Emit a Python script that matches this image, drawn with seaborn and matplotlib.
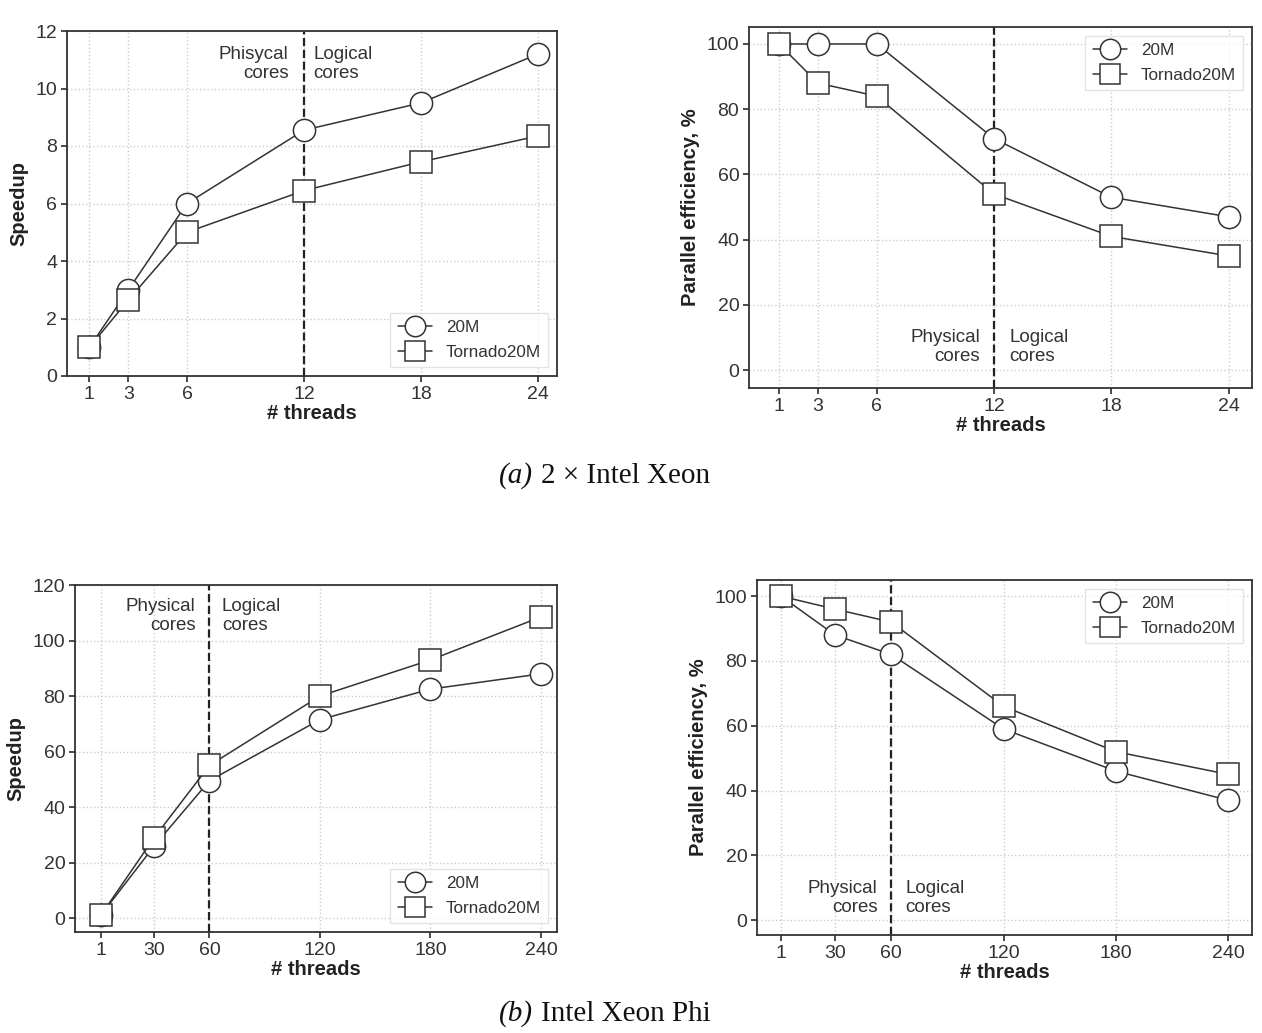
import numpy as np
import pandas as pd
import matplotlib
matplotlib.use("Agg")
import matplotlib.pyplot as plt
import seaborn as sns

# ---- data ----
series_names = ["20M", "Tornado20M"]

xeon_threads = [1, 3, 6, 12, 18, 24]
xeon_speedup_20m = [1.0, 3.0, 6.0, 8.55, 9.5, 11.2]
xeon_speedup_tornado = [1.0, 2.65, 5.0, 6.45, 7.45, 8.35]
xeon_eff_20m = [100, 100, 100, 71, 53, 47]
xeon_eff_tornado = [100, 88, 84, 54, 41, 35]

phi_threads = [1, 30, 60, 120, 180, 240]
phi_speedup_20m = [1.0, 26, 49.5, 71.5, 82.5, 88]
phi_speedup_tornado = [1.0, 29, 55, 80, 93, 108.5]
phi_eff_20m = [100, 88, 82, 59, 46, 37]
phi_eff_tornado = [100, 96, 92, 66, 52, 45]

xeon_split = 12
phi_split = 60

sns.set_theme(style="whitegrid")
plt.rcParams['font.family'] = ['Liberation Sans', 'DejaVu Sans']
plt.rcParams.update({
    "axes.edgecolor": "#333333",
    "axes.linewidth": 1.3,
    "grid.color": "#cccccc",
    "grid.linestyle": ":",
    "grid.linewidth": 1.0,
    "xtick.bottom": True,
    "ytick.left": True,
    "xtick.color": "#333333",
    "ytick.color": "#333333",
    "xtick.major.size": 4,
    "ytick.major.size": 4,
    "text.color": "#333333",
    "axes.labelcolor": "#222222",
})

DARK = "#333333"


def make_frame(x, a, b):
    return pd.DataFrame({
        "threads": list(x) * 2,
        "value": list(a) + list(b),
        "series": [series_names[0]] * len(x) + [series_names[1]] * len(x),
    })


def draw_panel(ax, x, a, b, ylabel, split, left_txt, text_y, legend_loc,
               xlim, ylim, yticks, dx_left=9, dx_right=8):
    df = make_frame(x, a, b)
    sns.lineplot(data=df, x="threads", y="value", hue="series", style="series",
                 markers={"20M": "o", "Tornado20M": "s"}, dashes=False,
                 palette=[DARK, DARK], markersize=16, linewidth=1.1,
                 markerfacecolor="white", markeredgecolor=DARK,
                 markeredgewidth=1.1, legend=False, ax=ax)
    handles = list(ax.lines[:2])
    ax.axvline(split, color="#222222", linestyle="--", linewidth=1.6, zorder=1)
    ax.annotate(left_txt, xy=(split, text_y), xytext=(-dx_left, 0),
                textcoords="offset points", ha="right", va="center",
                fontsize=13.5, multialignment="right", linespacing=1.15,
                color="#333333")
    ax.annotate("Logical\ncores", xy=(split, text_y), xytext=(dx_right, 0),
                textcoords="offset points", ha="left", va="center",
                fontsize=13.5, multialignment="left", linespacing=1.15,
                color="#333333")
    leg = ax.legend(handles, series_names, loc=legend_loc, fontsize=12.3,
                    frameon=True, fancybox=False, handlelength=2.0,
                    handletextpad=0.8, borderpad=0.45, labelspacing=0.55,
                    markerscale=0.92)
    leg.get_frame().set_edgecolor("#dddddd")
    ax.set_xticks(x)
    ax.set_yticks(yticks)
    ax.set_xlim(*xlim)
    ax.set_ylim(*ylim)
    ax.set_xlabel("# threads", fontsize=14.5, fontweight="bold", labelpad=1)
    ax.set_ylabel(ylabel, fontsize=14.5, fontweight="bold", labelpad=5)
    ax.tick_params(labelsize=14, pad=3)
    for s in ax.spines.values():
        s.set_color(DARK)


W, H = 1262, 1033
fig = plt.figure(figsize=(W / 100, H / 100), dpi=100)


def px_axes(l, t, r, b):
    return fig.add_axes([l / W, 1 - b / H, (r - l) / W, (b - t) / H])


ax1 = px_axes(67, 31, 557, 376)
draw_panel(ax1, xeon_threads, xeon_speedup_20m, xeon_speedup_tornado, "Speedup",
           xeon_split, "Phisycal\ncores", 10.85, "lower right",
           (-0.15, 24.97), (0, 12), [0, 2, 4, 6, 8, 10, 12],
           dx_left=11, dx_right=7)

ax2 = px_axes(749, 27, 1252, 388)
draw_panel(ax2, xeon_threads, xeon_eff_20m, xeon_eff_tornado, "Parallel efficiency, %",
           xeon_split, "Physical\ncores", 7, "upper right",
           (-0.53, 25.2), (-5.5, 105.2), [0, 20, 40, 60, 80, 100],
           dx_left=10, dx_right=11)

ax3 = px_axes(75, 585, 557, 932)
draw_panel(ax3, phi_threads, phi_speedup_20m, phi_speedup_tornado, "Speedup",
           phi_split, "Physical\ncores", 108.8, "lower right",
           (-13, 248.7), (-5, 120), [0, 20, 40, 60, 80, 100, 120],
           dx_left=10, dx_right=9)

ax4 = px_axes(757, 580, 1252, 935)
draw_panel(ax4, phi_threads, phi_eff_20m, phi_eff_tornado, "Parallel efficiency, %",
           phi_split, "Physical\ncores", 6.8, "upper right",
           (-11.8, 252.8), (-4.6, 105), [0, 20, 40, 60, 80, 100],
           dx_left=10, dx_right=10)

serif = ['Liberation Serif', 'DejaVu Serif']
fig.text(533 / W, 1 - 476 / H, "(a)", ha="right", va="center", fontsize=21,
         style="italic", family=serif, color="#111111")
fig.text(541 / W, 1 - 476 / H, "2 × Intel Xeon", ha="left", va="center",
         fontsize=21, family=serif, color="#111111")
fig.text(533 / W, 1 - 1014 / H, "(b)", ha="right", va="center", fontsize=21,
         style="italic", family=serif, color="#111111")
fig.text(541 / W, 1 - 1014 / H, "Intel Xeon Phi", ha="left", va="center",
         fontsize=21, family=serif, color="#111111")

fig.savefig("out.png", dpi=100)
